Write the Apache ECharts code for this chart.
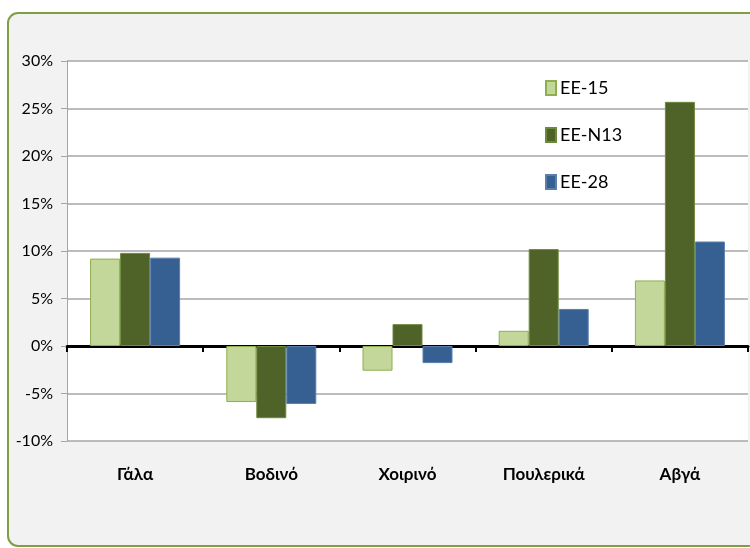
<!DOCTYPE html>
<html>
<head>
<meta charset="utf-8">
<script src="https://cdn.jsdelivr.net/npm/echarts@6/dist/echarts.min.js"></script>
<style>
html,body{margin:0;padding:0;background:#fff;}
#chart{width:750px;height:548px;}
</style>
</head>
<body>
<div id="chart"></div>
<script>
const categories = ['Γάλα', 'Βοδινό', 'Χοιρινό', 'Πουλερικά', 'Αβγά']
const ee15 = [9.2, -5.9, -2.6, 1.6, 6.9]
const eeN13 = [9.8, -7.6, 2.3, 10.2, 25.7]
const ee28 = [9.3, -6.1, -1.8, 3.9, 11.0]

const font = 'Lato, "Open Sans", sans-serif'

let chart = echarts.init(document.getElementById('chart'))

function bar(name, data, color, border){
  return {
    name: name,
    type: 'bar',
    data: data,
    barWidth: 30,
    barGap: '0%',
    itemStyle: {color: color, borderColor: border, borderWidth: 1}
  }
}

let option = {
  animation: false,
  textStyle: {fontFamily: font},
  graphic: [{
    type: 'rect',
    z: -10,
    shape: {x: 8, y: 13, width: 780, height: 533, r: 10},
    style: {fill: '#f2f2f2', stroke: '#7f9f45', lineWidth: 2}
  }],
  grid: {
    left: 67, right: 2, top: 61, bottom: 107,
    show: true, backgroundColor: '#fff', borderWidth: 0
  },
  legend: {
    orient: 'vertical',
    left: 540, top: 74,
    icon: 'rect',
    itemWidth: 10, itemHeight: 14,
    itemGap: 29,
    textStyle: {fontFamily: font, fontSize: 18, color: '#000', padding: [0, 0, 0, -1]},
    data: ['EE-15', 'EE-N13', 'EE-28']
  },
  xAxis: [{
    type: 'category',
    data: categories,
    axisLine: {onZero: true, lineStyle: {color: '#000', width: 3}},
    axisTick: {show: true, length: 6, lineStyle: {color: '#000', width: 2}},
    axisLabel: {show: false}
  }, {
    type: 'category',
    data: categories,
    position: 'bottom',
    axisLine: {show: false, onZero: false},
    axisTick: {show: false},
    axisLabel: {margin: 25, fontFamily: font, fontSize: 17, fontWeight: 'bold', color: '#000'}
  }],
  yAxis: [{
    type: 'value',
    min: -10, max: 30, interval: 5,
    axisLine: {show: true, lineStyle: {color: '#a6a6a6', width: 1}},
    axisTick: {show: true, length: 6, lineStyle: {color: '#a6a6a6'}},
    axisLabel: {formatter: '{value}%', margin: 14, fontFamily: font, fontSize: 16, color: '#000'},
    splitLine: {show: true, lineStyle: {color: '#a6a6a6', width: 1.5}}
  }],
  series: [
    bar('EE-15', ee15, '#c4d79b', '#8fae4f'),
    bar('EE-N13', eeN13, '#4f6228', '#6b8a3a'),
    bar('EE-28', ee28, '#376092', '#5a7fae')
  ]
}

chart.setOption(option)
</script>
</body>
</html>
